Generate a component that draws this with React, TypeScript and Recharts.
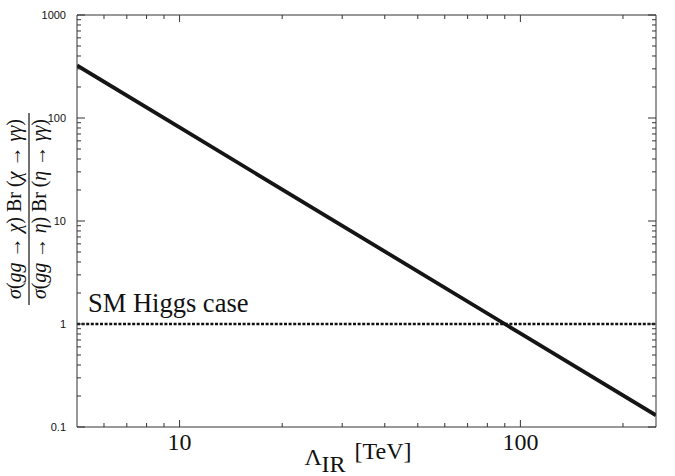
// App.tsx
import { LineChart, Line, XAxis, YAxis, ReferenceLine } from "recharts";

// Lambda_IR [TeV] and the cross-section ratio
const lambdaIR = [5, 10, 100, 250];
const ratio = [324, 81, 0.81, 0.13];
const SM_HIGGS = 1;

const X_DOMAIN = [5, 250];
const Y_DOMAIN = [0.1, 1000];

const xTicks = [6, 7, 8, 9, 10, 20, 30, 40, 50, 60, 70, 80, 90, 100, 200];
const xMajor = [10, 100];
const yTicks = [
  0.1, 0.2, 0.3, 0.4, 0.5, 0.6, 0.7, 0.8, 0.9,
  1, 2, 3, 4, 5, 6, 7, 8, 9,
  10, 20, 30, 40, 50, 60, 70, 80, 90,
  100, 200, 300, 400, 500, 600, 700, 800, 900, 1000,
];
const yMajor = [0.1, 1, 10, 100, 1000];

const data = lambdaIR.map((x, i) => ({ x, ratio: ratio[i] }));

const SERIF = "'Liberation Serif', 'Times New Roman', serif";
const SANS = "'Liberation Sans', Arial, sans-serif";
const AXIS = "#333";

function BottomTick({ x, y, payload }: any) {
  const major = xMajor.includes(payload.value);
  return (
    <g>
      <line x1={x} x2={x} y1={y} y2={y - (major ? 7 : 4)} stroke={AXIS} />
      {major && (
        <text x={x} y={y + 23} textAnchor="middle" fontFamily={SERIF} fontSize={24} fill="#111">
          {payload.value}
        </text>
      )}
    </g>
  );
}

function TopTick({ x, y, payload }: any) {
  const major = xMajor.includes(payload.value);
  return <line x1={x} x2={x} y1={y} y2={y + (major ? 7 : 4)} stroke={AXIS} />;
}

function LeftTick({ x, y, payload }: any) {
  const major = yMajor.includes(payload.value);
  return (
    <g>
      <line x1={x} x2={x + (major ? 8 : 4)} y1={y} y2={y} stroke={AXIS} />
      {major && (
        <text x={x - 11} y={y + 4} textAnchor="end" fontFamily={SANS} fontSize={11} fill="#111">
          {payload.value}
        </text>
      )}
    </g>
  );
}

function RightTick({ x, y, payload }: any) {
  const major = yMajor.includes(payload.value);
  return <line x1={x} x2={x - (major ? 8 : 4)} y1={y} y2={y} stroke={AXIS} />;
}

function YLabel({ viewBox }: any) {
  const ax = viewBox.x;
  const cy = viewBox.y + viewBox.height / 2 - 12;
  const it = { fontStyle: "italic" as const };
  return (
    <g fontFamily={SERIF} fontSize={20} fill="#111">
      <text transform={`translate(${ax - 55},${cy}) rotate(-90)`} textAnchor="middle" textLength={180} lengthAdjust="spacing">
        <tspan {...it}>σ</tspan>(<tspan {...it}>gg</tspan> → <tspan {...it}>χ</tspan>) Br (<tspan {...it}>χ</tspan> → <tspan {...it}>γγ</tspan>)
      </text>
      <line x1={ax - 47} x2={ax - 47} y1={cy - 96} y2={cy + 96} stroke="#111" strokeWidth={1.2} />
      <text transform={`translate(${ax - 30},${cy}) rotate(-90)`} textAnchor="middle" textLength={180} lengthAdjust="spacing">
        <tspan {...it}>σ</tspan>(<tspan {...it}>gg</tspan> → <tspan {...it}>η</tspan>) Br (<tspan {...it}>η</tspan> → <tspan {...it}>γγ</tspan>)
      </text>
    </g>
  );
}

function XLabel({ viewBox }: any) {
  const cx = viewBox.x + viewBox.width / 2;
  const y = viewBox.y;
  return (
    <g fontFamily={SERIF} fill="#111">
      <text x={cx - 62} y={y + 38} fontSize={24}>Λ</text>
      <text x={cx - 45} y={y + 45} fontSize={24}>IR</text>
      <text x={cx - 12} y={y + 32} fontSize={24}>[TeV]</text>
    </g>
  );
}

function SmLabel({ viewBox }: any) {
  return (
    <text x={viewBox.x + 11} y={viewBox.y - 12} fontFamily={SERIF} fontSize={26.5} fill="#111">
      SM Higgs case
    </text>
  );
}

export default function App() {
  return (
    <div style={{ position: "absolute", left: 0, top: 0, background: "#fff" }}>
      <LineChart width={675} height={476} data={data} margin={{ top: 14, right: 18, bottom: 48, left: 76 }}>
        <XAxis
          dataKey="x"
          type="number"
          scale="log"
          domain={X_DOMAIN}
          allowDataOverflow
          ticks={xTicks}
          interval={0}
          height={1}
          tickSize={0}
          tickMargin={0}
          tick={<BottomTick />}
          axisLine={{ stroke: AXIS }}
          label={<XLabel />}
        />
        <XAxis
          xAxisId="top"
          dataKey="x"
          type="number"
          scale="log"
          orientation="top"
          domain={X_DOMAIN}
          allowDataOverflow
          ticks={xTicks}
          interval={0}
          height={1}
          tickSize={0}
          tickMargin={0}
          tick={<TopTick />}
          axisLine={{ stroke: AXIS }}
        />
        <YAxis
          type="number"
          scale="log"
          domain={Y_DOMAIN}
          allowDataOverflow
          ticks={yTicks}
          interval={0}
          width={1}
          tickSize={0}
          tickMargin={0}
          tick={<LeftTick />}
          axisLine={{ stroke: AXIS }}
          label={<YLabel />}
        />
        <YAxis
          yAxisId="right"
          orientation="right"
          type="number"
          scale="log"
          domain={Y_DOMAIN}
          allowDataOverflow
          ticks={yTicks}
          interval={0}
          width={1}
          tickSize={0}
          tickMargin={0}
          tick={<RightTick />}
          axisLine={{ stroke: AXIS }}
        />
        <ReferenceLine
          y={SM_HIGGS}
          stroke="#111"
          strokeWidth={2.4}
          strokeDasharray="3 1.6"
          label={<SmLabel />}
        />
        <Line
          dataKey="ratio"
          type="linear"
          stroke="#151515"
          strokeWidth={3.8}
          dot={false}
          isAnimationActive={false}
        />
      </LineChart>
    </div>
  );
}
